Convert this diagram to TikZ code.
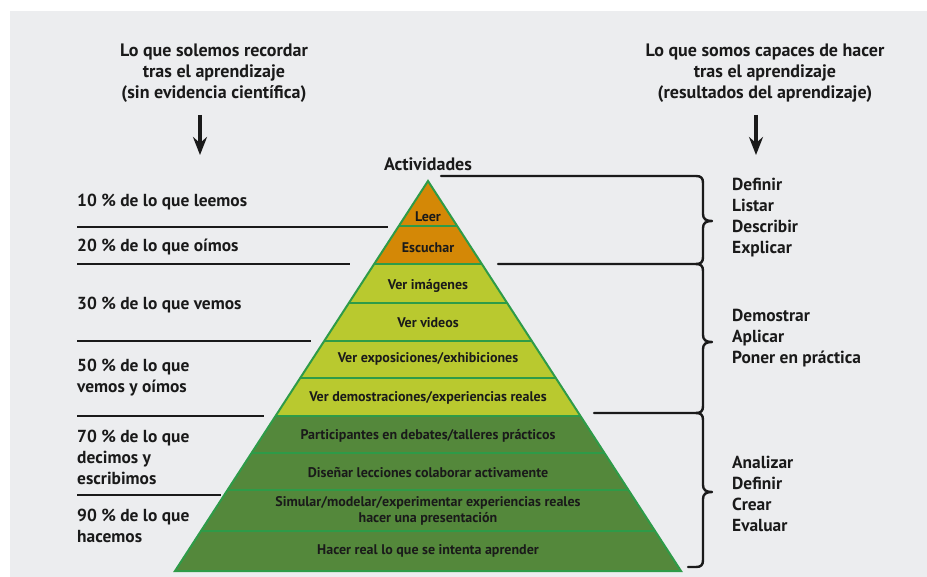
\documentclass[tikz,border=0pt]{standalone}
\usepackage{fontspec}
\setmainfont{PT Sans}
\usetikzlibrary{arrows.meta}
\definecolor{panel}{RGB}{236,237,239}
\definecolor{orng}{RGB}{212,136,6}
\definecolor{lgreen}{RGB}{185,201,47}
\definecolor{dgreen}{RGB}{84,136,59}
\definecolor{edge}{RGB}{46,155,72}
\definecolor{ink}{RGB}{26,26,26}
\tikzset{
  lbl/.style={anchor=west,align=left,font=\bfseries\fontsize{17.4}{21}\selectfont,text=ink,inner sep=0pt},
  head/.style={align=center,font=\bfseries\fontsize{18}{21}\selectfont,text=ink,inner sep=0pt},
  ptxt/.style={align=center,font=\bfseries\fontsize{14}{16}\selectfont,text=ink,inner sep=0pt},
  rule/.style={line width=2.4pt,ink},
  brace/.style={line width=2.4pt,ink,line cap=round,line join=round},
  downarrow/.style={line width=4pt,ink,-{Stealth[length=18pt,width=14pt,inset=6pt]}}
}
\begin{document}
\begin{tikzpicture}[x=1pt,y=-1pt]
\useasboundingbox (0,0) rectangle (927,577);
\fill[white] (0,0) rectangle (927,577);
\fill[panel] (10,11) rectangle (927,577);
% headings
\node[head] (hl) at (214,73) {Lo que solemos recordar\\tras el aprendizaje\\(sin evidencia científica)};
\node[head] (hr) at (765,73) {Lo que somos capaces de hacer\\tras el aprendizaje\\(resultados del aprendizaje)};
\coordinate (al1) at (200,115); \coordinate (al2) at (200,155);
\coordinate (ar1) at (756,115); \coordinate (ar2) at (756,155);
\draw[downarrow] (al1) -- (al2);
\draw[downarrow] (ar1) -- (ar2);
\node[head] (act) at (428,164) {Actividades};
% pyramid bands
\foreach \ya/\yb/\col in {181/226/orng,226/264/orng,264/303/lgreen,303/341/lgreen,341/378/lgreen,378/416/lgreen,416/453/dgreen,453/490/dgreen,490/531/dgreen,531/571/dgreen}{
  \fill[\col] ({428-0.6487*(\ya-181)},\ya) -- ({428+0.6487*(\ya-181)},\ya) -- ({428+0.6487*(\yb-181)},\yb) -- ({428-0.6487*(\yb-181)},\yb) -- cycle;
}
\foreach \yy in {226,264,303,341,378,416,453,490,531}{
  \draw[edge,line width=2pt] ({428-0.6487*(\yy-181)},\yy) -- ({428+0.6487*(\yy-181)},\yy);
}
\draw[edge,line width=2pt,line join=miter] (428,181) -- (681,571) -- (175,571) -- cycle;
% pyramid labels
\node[ptxt] (p1) at (428,217) {Leer};
\node[ptxt] (p2) at (428,248) {Escuchar};
\node[ptxt] (p3) at (428,286) {Ver imágenes};
\node[ptxt] (p4) at (428,323) {Ver videos};
\node[ptxt] (p5) at (428,359) {Ver exposiciones/exhibiciones};
\node[ptxt] (p6) at (428,398) {Ver demostraciones/experiencias reales};
\node[ptxt] (p7) at (428,436) {Participantes en debates/talleres prácticos};
\node[ptxt] (p8) at (428,473) {Diseñar lecciones colaborar activamente};
\node[ptxt] (p9) at (428,511) {Simular/modelar/experimentar experiencias reales\\hacer una presentación};
\node[ptxt] (p10) at (428,551) {Hacer real lo que se intenta aprender};
% left labels
\node[lbl] (t1) at (77,202) {10 \% de lo que leemos};
\node[lbl] (t2) at (77,247) {20 \% de lo que oímos};
\node[lbl] (t3) at (77,305) {30 \% de lo que vemos};
\node[lbl] (t4) at (77,378) {50 \% de lo que\\vemos y oímos};
\node[lbl] (t5) at (77,457) {70 \% de lo que\\decimos y\\escribimos};
\node[lbl] (t6) at (77,526) {90 \% de lo que\\hacemos};
\coordinate (r1a) at (77,227); \coordinate (r1b) at (388,227);
\coordinate (r2a) at (77,264); \coordinate (r2b) at (350,264);
\coordinate (r3a) at (77,341); \coordinate (r3b) at (311,341);
\coordinate (r4a) at (77,416); \coordinate (r4b) at (264,416);
\coordinate (r5a) at (77,495); \coordinate (r5b) at (221,495);
\draw[rule] (r1a) -- (r1b);
\draw[rule] (r2a) -- (r2b);
\draw[rule] (r3a) -- (r3b);
\draw[rule] (r4a) -- (r4b);
\draw[rule] (r5a) -- (r5b);
% braces
\coordinate (b1s) at (441,176);
\coordinate (b2s) at (498,264);
\coordinate (b3s) at (594,413);
\coordinate (b4e) at (688,567);
\draw[brace] (b1s) -- (696,176) .. controls (701,176) and (703,178) .. (703,183)
  -- (703,214) .. controls (703,219) and (706,221) .. (712,221)
  .. controls (706,221) and (703,223) .. (703,228)
  -- (703,257) .. controls (703,262) and (701,264) .. (696,264) -- (b2s);
\draw[brace] (696,264) .. controls (701,264) and (703,266) .. (703,271)
  -- (703,335) .. controls (703,340) and (706,342) .. (712,342)
  .. controls (706,342) and (703,344) .. (703,349)
  -- (703,406) .. controls (703,411) and (701,413) .. (696,413) -- (b3s);
\draw[brace] (696,413) .. controls (701,413) and (703,415) .. (703,420)
  -- (703,485) .. controls (703,490) and (706,492) .. (712,492)
  .. controls (706,492) and (703,494) .. (703,499)
  -- (703,560) .. controls (703,565) and (701,567) .. (696,567) -- (b4e);
% right labels
\node[lbl] (g1) at (732,218) {Definir\\Listar\\Describir\\Explicar};
\node[lbl] (g2) at (732,338) {Demostrar\\Aplicar\\Poner en práctica};
\node[lbl] (g3) at (732,494) {Analizar\\Definir\\Crear\\Evaluar};
\end{tikzpicture}
\end{document}
